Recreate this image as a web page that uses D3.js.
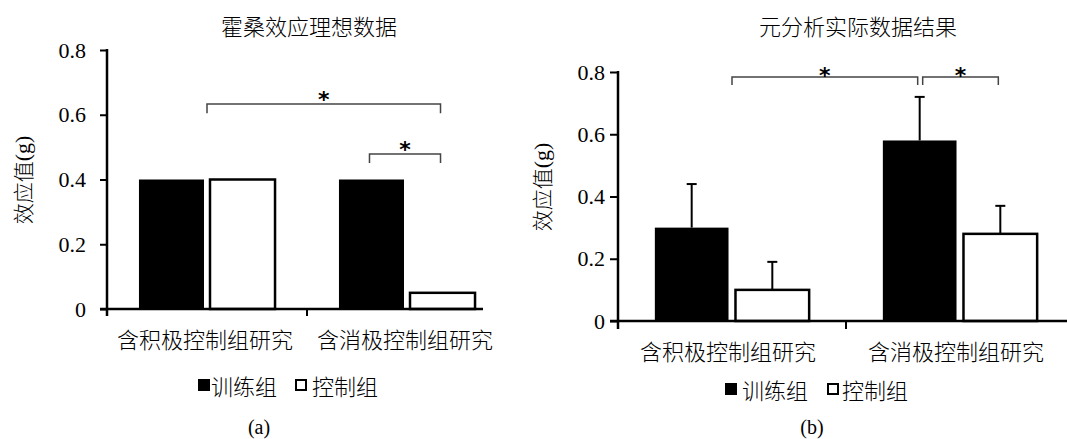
<!DOCTYPE html>
<html>
<head>
<meta charset="utf-8">
<script src="https://cdn.jsdelivr.net/npm/d3@7"></script>
<style>
  html, body { margin: 0; padding: 0; background: #fff; }
  svg { display: block; }
  text.cjk { font-family: "Noto Sans CJK SC", "Noto Sans", sans-serif; font-weight: 300; }
  text.num, tspan.num { font-family: "Liberation Serif", "Times New Roman", "DejaVu Serif", serif; font-weight: normal; }
</style>
</head>
<body>
<svg id="chart" width="1067" height="439"></svg>
<script>
// ---------- data ----------
const categories = ["含积极控制组研究", "含消极控制组研究"];
const seriesNames = ["训练组", "控制组"];
const yTicks = [0, 0.2, 0.4, 0.6, 0.8];
const yTickLabels = ["0", "0.2", "0.4", "0.6", "0.8"];

// panel (a): ideal Hawthorne-effect data
const titleA = "霍桑效应理想数据";
const trainA = [0.40, 0.40];
const controlA = [0.40, 0.05];

// panel (b): meta-analysis results
const titleB = "元分析实际数据结果";
const trainB = [0.30, 0.58];
const controlB = [0.10, 0.28];
const trainErrB = [0.14, 0.14];
const controlErrB = [0.09, 0.09];

const yLabelCjk = "效应值";
const yLabelUnit = "(g)";
const panelLabels = ["(a)", "(b)"];

// significance brackets: level in value units
const bracketsA = [
  { from: [0, "mid"], to: [1, 1], level: 0.633, drop: 0.028 },
  { from: [1, 0], to: [1, 1], level: 0.479, drop: 0.028 }
];
const bracketsB = [
  { from: [0, "mid"], to: [1, 0], level: 0.784, drop: 0.026 },
  { from: [1, "midR"], to: [1, 1], level: 0.784, drop: 0.026 }
];

// ---------- drawing ----------
const svg = d3.select("#chart");

function panel(cfg) {
  const g = svg.append("g");
  const x = d3.scaleBand().domain(categories).range([cfg.x0, cfg.x0 + 2 * cfg.band]).padding(0);
  const xs = d3.scaleBand().domain(seriesNames).range([0, cfg.band])
    .paddingInner(cfg.pi).paddingOuter(cfg.po);
  const y = d3.scaleLinear().domain([0, 0.8]).range([cfg.yBottom, cfg.yTop]);

  const data = [];
  categories.forEach((c, i) => {
    data.push({ c, s: seriesNames[0], v: cfg.train[i], e: cfg.trainErr ? cfg.trainErr[i] : null });
    data.push({ c, s: seriesNames[1], v: cfg.control[i], e: cfg.controlErr ? cfg.controlErr[i] : null });
  });

  // bars
  g.selectAll("rect.bar").data(data).join("rect")
    .attr("class", "bar")
    .attr("x", d => x(d.c) + xs(d.s))
    .attr("width", xs.bandwidth())
    .attr("y", d => y(d.v))
    .attr("height", d => y(0) - y(d.v))
    .attr("fill", d => d.s === seriesNames[0] ? "#000" : "#fff")
    .attr("stroke", "#000")
    .attr("stroke-width", d => d.s === seriesNames[0] ? 0 : 2.5);

  // error bars
  const eb = data.filter(d => d.e != null);
  const cx = d => x(d.c) + xs(d.s) + xs.bandwidth() / 2;
  g.selectAll("line.err").data(eb).join("line")
    .attr("x1", cx).attr("x2", cx)
    .attr("y1", d => y(d.v)).attr("y2", d => y(d.v + d.e))
    .attr("stroke", "#000").attr("stroke-width", 2);
  g.selectAll("line.cap").data(eb).join("line")
    .attr("x1", d => cx(d) - 5).attr("x2", d => cx(d) + 5)
    .attr("y1", d => y(d.v + d.e)).attr("y2", d => y(d.v + d.e))
    .attr("stroke", "#000").attr("stroke-width", 2);

  // y axis
  const yAxis = d3.axisLeft(y).tickValues(yTicks).tickSize(cfg.tickLen).tickSizeOuter(0)
    .tickPadding(cfg.tickPad).tickFormat((d, i) => yTickLabels[i]);
  const ya = g.append("g").attr("transform", `translate(${cfg.x0},0)`).call(yAxis)
    .attr("font-family", null).attr("font-size", null);
  ya.select(".domain").remove();
  ya.selectAll(".tick line").attr("stroke", "#000").attr("stroke-width", 2);
  ya.selectAll(".tick text").attr("class", "num").attr("font-size", 22).attr("fill", "#000");
  g.append("line").attr("x1", cfg.x0).attr("x2", cfg.x0)
    .attr("y1", y(0.8) - 1).attr("y2", y(0) + cfg.tickLen)
    .attr("stroke", "#000").attr("stroke-width", 2.5);

  // x axis
  g.append("line").attr("x1", cfg.x0 - cfg.tickLen).attr("x2", cfg.xEnd)
    .attr("y1", y(0)).attr("y2", y(0)).attr("stroke", "#000").attr("stroke-width", 2.5);
  const bx = x(categories[1]);
  g.append("line").attr("x1", bx).attr("x2", bx)
    .attr("y1", y(0)).attr("y2", y(0) + cfg.tickLen).attr("stroke", "#000").attr("stroke-width", 2);

  g.selectAll("text.cat").data(categories).join("text")
    .attr("class", "cjk")
    .attr("x", d => x(d) + x.bandwidth() / 2 + cfg.catDx)
    .attr("y", cfg.catY)
    .attr("text-anchor", "middle").attr("dominant-baseline", "central")
    .attr("font-size", 22).attr("fill", "#000").text(d => d);

  // title
  g.append("text").attr("class", "cjk").attr("x", cfg.titleX).attr("y", 25)
    .attr("text-anchor", "middle").attr("dominant-baseline", "central")
    .attr("font-size", 22).attr("fill", "#000").text(cfg.title);

  // y label
  const yl = g.append("text").attr("class", "cjk")
    .attr("transform", `translate(${cfg.yLabelX},${cfg.yLabelY}) rotate(-90)`)
    .attr("text-anchor", "middle").attr("dominant-baseline", "central")
    .attr("font-size", 21).attr("fill", "#000");
  yl.append("tspan").text(yLabelCjk);
  yl.append("tspan").attr("class", "num").attr("font-size", 22).text(yLabelUnit);

  // brackets
  const px = (ref) => {
    const [ci, si] = ref;
    const c = categories[ci];
    if (si === "mid") return x(c) + x.bandwidth() / 2;
    if (si === "midR") return x(c) + xs(seriesNames[0]) + xs.bandwidth() / 2 + 3;
    return x(c) + xs(seriesNames[si]) + xs.bandwidth() / 2 - 2;
  };
  cfg.brackets.forEach(b => {
    const x1 = px(b.from), x2 = px(b.to);
    const ylv = y(b.level), yd = y(b.level - b.drop);
    g.append("path")
      .attr("d", `M${x1},${yd}V${ylv}H${x2}V${yd}`)
      .attr("fill", "none").attr("stroke", "#444").attr("stroke-width", 1.5);
    g.append("text").attr("x", (x1 + x2) / 2).attr("y", ylv + cfg.starDy)
      .attr("text-anchor", "middle").attr("font-size", 22).attr("font-weight", "bold")
      .attr("font-family", "DejaVu Sans, sans-serif")
      .attr("fill", "#000").text("*");
  });

  // legend
  const lg = g.append("g");
  seriesNames.forEach((s, i) => {
    const lx = cfg.legendX[i];
    lg.append("rect").attr("x", lx + (i === 0 ? 0 : 1)).attr("y", cfg.legendY - 6 + (i === 0 ? 0 : 1))
      .attr("width", i === 0 ? 12 : 10).attr("height", i === 0 ? 12 : 10)
      .attr("fill", i === 0 ? "#000" : "#fff").attr("stroke", "#000")
      .attr("stroke-width", i === 0 ? 0 : 2);
    lg.append("text").attr("class", "cjk").attr("x", lx + cfg.legendTextDx[i]).attr("y", cfg.legendY)
      .attr("dominant-baseline", "central").attr("font-size", 22).attr("fill", "#000").text(s);
  });

  // panel label
  g.append("text").attr("class", "num").attr("x", cfg.panelX).attr("y", 427)
    .attr("text-anchor", "middle").attr("dominant-baseline", "central")
    .attr("font-size", 20).attr("fill", "#000").text(cfg.panelLabel);
}

panel({
  x0: 107, band: 200, xEnd: 483, pi: 0.0845, po: 0.45,
  yBottom: 309, yTop: 50, tickLen: 7, tickPad: 14,
  train: trainA, control: controlA,
  title: titleA, titleX: 309,
  catY: 338, catDx: -2,
  yLabelX: 22, yLabelY: 180,
  brackets: bracketsA, starDy: 3,
  legendX: [198, 295], legendTextDx: [13, 17], legendY: 385,
  panelX: 259, panelLabel: panelLabels[0]
});

panel({
  x0: 618, band: 228, xEnd: 1067, pi: 0.0864, po: 0.457,
  yBottom: 321, yTop: 72, tickLen: 8, tickPad: 5,
  train: trainB, control: controlB, trainErr: trainErrB, controlErr: controlErrB,
  title: titleB, titleX: 858,
  catY: 350, catDx: -4,
  yLabelX: 541, yLabelY: 187,
  brackets: bracketsB, starDy: 6,
  legendX: [725, 827], legendTextDx: [17, 15], legendY: 389,
  panelX: 812, panelLabel: panelLabels[1]
});
</script>
</body>
</html>
